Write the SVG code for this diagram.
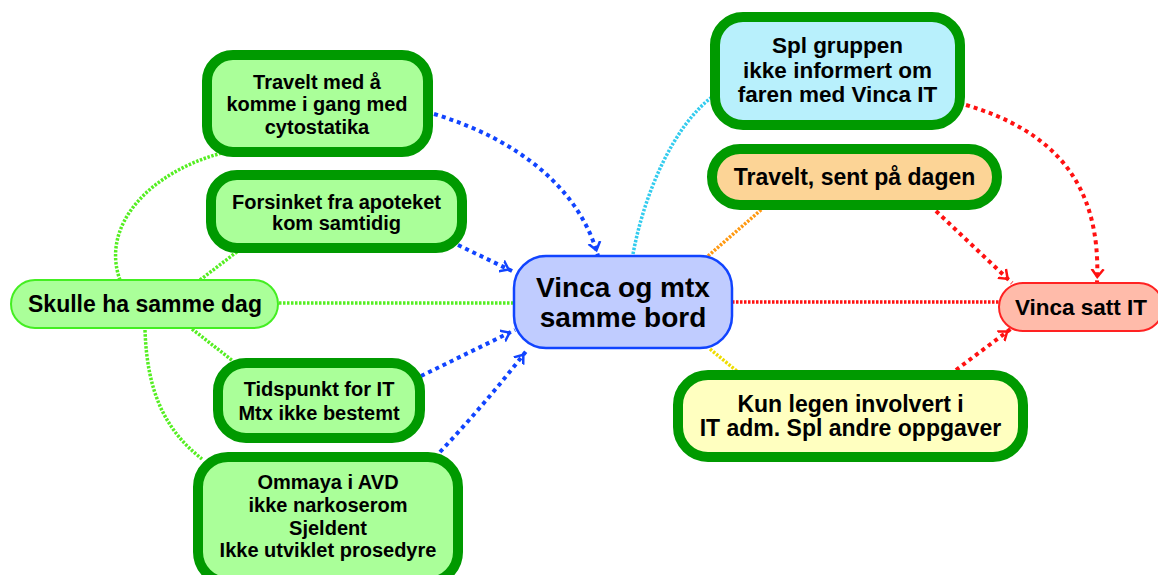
<svg xmlns="http://www.w3.org/2000/svg" width="1158" height="575" viewBox="0 0 1158 575">
<style>
text{font-family:"Liberation Sans",Arial,sans-serif;font-weight:bold;fill:#000;text-anchor:middle}
.thick{stroke:#009a00;stroke-width:10}
.g{fill:#aaff99}
.arrowBlue{fill:none;stroke:#1144ff;stroke-width:4;stroke-dasharray:4 4}
.arrowRed{fill:none;stroke:#ff1111;stroke-width:4;stroke-dasharray:4 4}
.fine{fill:none;stroke-width:3.5;stroke-dasharray:2.5 1.5}
</style>
<defs>
<marker id="ab" markerUnits="userSpaceOnUse" viewBox="-14 -8 18 16" markerWidth="18" markerHeight="16" refX="0" refY="0" orient="auto">
<path d="M-14,-6 L-6,0 L-14,6" fill="none" stroke="#1144ff" stroke-width="2.5"/>
</marker>
<marker id="ar" markerUnits="userSpaceOnUse" viewBox="-14 -8 18 16" markerWidth="18" markerHeight="16" refX="0" refY="0" orient="auto">
<path d="M-14,-6 L-6,0 L-14,6" fill="none" stroke="#ff1111" stroke-width="2.5"/>
</marker>
</defs>
<rect width="1158" height="575" fill="#fff"/>
<g id="connectors">
<path class="fine" stroke="#55ee22" d="M279,303 L513,303"/>
<path class="fine" stroke="#55ee22" d="M120,280 C100,225 150,172 222,153"/>
<path class="fine" stroke="#55ee22" d="M200,280 L238,251"/>
<path class="fine" stroke="#55ee22" d="M192,329 L233,361"/>
<path class="fine" stroke="#55ee22" d="M145,330 C147,392 165,430 202,459"/>
<path class="fine" stroke="#33ccee" d="M633,254 C645,190 675,125 712,97"/>
<path class="fine" stroke="#ff9911" d="M708,256 L762,209"/>
<path class="fine" stroke="#eedd00" d="M710,349 L738,372"/>
<path class="fine" stroke="#ff1111" d="M732,302 L999,302"/>
<path class="arrowBlue" marker-end="url(#ab)" d="M434,114 C520,140 580,190 598,256"/>
<path class="arrowBlue" marker-end="url(#ab)" d="M458,245 L514,272"/>
<path class="arrowBlue" marker-end="url(#ab)" d="M421,376 L515,330"/>
<path class="arrowBlue" marker-end="url(#ab)" d="M440,452 C470,420 500,385 527,350"/>
<path class="arrowRed" marker-end="url(#ar)" d="M936,211 L1012,283"/>
<path class="arrowRed" marker-end="url(#ar)" d="M966,105 C1050,130 1102,180 1097,283"/>
<path class="arrowRed" marker-end="url(#ar)" d="M956,370 L1012,328"/>
</g>
<g id="n-travelt-med">
<rect class="thick g" x="207" y="55" width="221" height="97" rx="26"/>
<text font-size="20"><tspan x="317" y="89">Travelt med å</tspan><tspan x="317" y="111">komme i gang med</tspan><tspan x="317" y="134">cytostatika</tspan></text>
</g>
<g id="n-forsinket">
<rect class="thick g" x="211" y="175" width="251" height="73" rx="26"/>
<text font-size="20"><tspan x="336.5" y="209">Forsinket fra apoteket</tspan><tspan x="336.5" y="230">kom samtidig</tspan></text>
</g>
<g id="n-skulle">
<rect x="11" y="280" width="267" height="48" rx="24" fill="#aaff99" stroke="#44ee22" stroke-width="2"/>
<text font-size="23" x="145" y="312">Skulle ha samme dag</text>
</g>
<g id="n-tidspunkt">
<rect class="thick g" x="218" y="363" width="202" height="75" rx="28"/>
<text font-size="20"><tspan x="319" y="396">Tidspunkt for IT</tspan><tspan x="319" y="420">Mtx ikke bestemt</tspan></text>
</g>
<g id="n-ommaya">
<rect class="thick g" x="198" y="457" width="260" height="125" rx="30"/>
<text font-size="20"><tspan x="328" y="489">Ommaya i AVD</tspan><tspan x="328" y="512">ikke narkoserom</tspan><tspan x="328" y="535">Sjeldent</tspan><tspan x="328" y="557">Ikke utviklet prosedyre</tspan></text>
</g>
<g id="n-center">
<rect x="514" y="256" width="218" height="92" rx="32" fill="#c0ccff" stroke="#1144ff" stroke-width="2.5"/>
<text font-size="28"><tspan x="623" y="297">Vinca og mtx</tspan><tspan x="623" y="327">samme bord</tspan></text>
</g>
<g id="n-spl">
<rect class="thick" fill="#b8f0fc" x="715" y="17" width="245" height="108" rx="28"/>
<text font-size="22.5"><tspan x="837.5" y="53">Spl gruppen</tspan><tspan x="837.5" y="78">ikke informert om</tspan><tspan x="837.5" y="102">faren med Vinca IT</tspan></text>
</g>
<g id="n-travelt-sent">
<rect class="thick" fill="#fcd496" x="712" y="149" width="285" height="56" rx="28"/>
<text font-size="23" x="854.5" y="185">Travelt, sent på dagen</text>
</g>
<g id="n-kun">
<rect class="thick" fill="#ffffc0" x="678" y="375" width="345" height="82" rx="30"/>
<text font-size="23"><tspan x="850.5" y="412">Kun legen involvert i</tspan><tspan x="850.5" y="436">IT adm. Spl andre oppgaver</tspan></text>
</g>
<g id="n-vinca-satt">
<rect x="999" y="283" width="164" height="48" rx="24" fill="#ffbbaa" stroke="#ff2222" stroke-width="2"/>
<text font-size="22.5" x="1081" y="315">Vinca satt IT</text>
</g>
</svg>
